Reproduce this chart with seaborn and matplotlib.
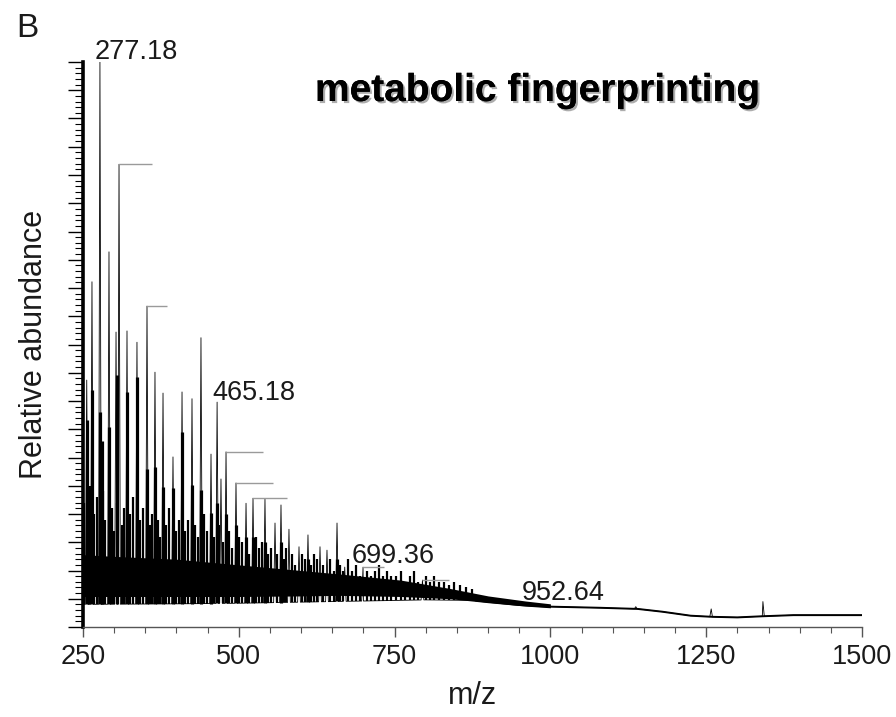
import numpy as np
import pandas as pd
import matplotlib
matplotlib.use("Agg")
import matplotlib.pyplot as plt
import matplotlib.patheffects as pe
from matplotlib.ticker import MultipleLocator, FixedLocator
import seaborn as sns

# ---------------- data ----------------
# main (tall) peaks: m/z and relative abundance
peak_mz = [256.0, 264.4, 277.18, 291.7, 303.0, 307.8, 320.6, 336.6, 352.7, 365.5,
           378.4, 394.4, 408.9, 424.9, 439.3, 455.4, 465.18, 471.4, 479.5, 495.5,
           511.6, 522.8, 542.0, 558.1, 567.7, 580.5, 596.6, 611.0, 630.3, 641.5,
           657.6, 670.0, 699.36, 794.7, 952.64, 1137.0, 1258.0, 1341.0]
peak_int = [43.7, 61.1, 100.0, 66.4, 52.2, 81.9, 52.4, 50.4, 56.8, 45.1,
            41.4, 30.1, 41.6, 40.4, 51.2, 30.6, 39.8, 26.2, 31.0, 25.5,
            21.9, 22.8, 22.7, 18.4, 21.6, 17.3, 14.2, 16.3, 14.2, 13.6,
            18.4, 10.6, 10.6, 8.3, 4.4, 3.6, 3.2, 4.5]

# dark lower bodies of the main peaks
body_mz = [256.0, 264.4, 277.18, 281.0, 291.7, 305.0, 320.6, 336.6, 352.7, 365.5,
           378.4, 394.4, 408.9, 424.9, 439.3, 455.4, 465.18, 479.5, 495.5, 511.6,
           522.8, 542.0, 567.7, 611.0, 657.6]
body_int = [36.6, 41.9, 38.0, 33.0, 35.4, 44.6, 41.6, 44.2, 28.0, 28.3,
            24.8, 24.6, 34.5, 25.1, 24.2, 20.2, 22.0, 20.0, 18.0, 16.0,
            16.0, 15.0, 15.0, 12.0, 12.0]

# dense low-level peaks ("grass")
grass_mz = [252, 258, 262, 268, 272, 282, 286, 296, 300,
            304, 312, 316, 325, 330, 341, 346,
            357, 361, 370, 374, 383, 388, 399, 404,
            413, 418, 429, 434, 444, 449,
            460, 468, 475, 484, 489, 500,
            505, 516, 527, 532, 537, 547, 552,
            562, 572, 576, 586, 590, 601, 606, 616, 621, 626, 635, 646, 652,
            662, 668, 675, 682, 688, 694, 705, 712, 718, 725, 732, 738, 745,
            752, 760, 767, 774, 781, 788, 800, 807, 814, 822, 830, 838, 846, 855, 864, 874]
grass_int = [22, 18, 25, 20, 23, 24, 19, 21, 17,
             22, 18, 21, 20, 23, 19, 21,
             18, 20, 19, 16, 18, 21, 17, 19,
             17, 19, 18, 16, 20, 17,
             16, 18, 15, 17, 14, 16,
             15, 13, 16, 14, 15, 13, 14,
             13, 12, 14, 13, 11, 13, 12, 11, 13, 12, 11, 12, 10,
             11, 10, 12, 10, 11, 9, 10, 9, 10, 11, 9, 10, 9,
             9, 10, 8, 9, 10, 8, 9, 8, 9, 8, 8, 7.5, 8, 7.5, 7, 6.8]

# baseline (floor) of the spectrum
floor_mz = [250, 400, 500, 600, 700, 800, 880, 950, 1000, 1080, 1140, 1180,
            1225, 1260, 1300, 1340, 1390, 1500]
floor_int = [4.0, 4.1, 4.2, 4.4, 4.6, 4.8, 4.7, 3.9, 3.6, 3.4, 3.2, 2.7,
             2.0, 1.8, 1.7, 1.9, 2.1, 2.1]

# solid dense noise core
band_mz = [250, 300, 400, 500, 600, 660, 760, 840, 900, 960, 1000]
band_lo = [5.4, 5.4, 5.4, 5.4, 5.5, 5.6, 5.4, 5.0, 4.3, 3.7, 3.4]
band_hi = [12.8, 12.5, 12.0, 11.0, 10.0, 9.4, 8.3, 6.8, 5.5, 4.6, 4.1]

# leader (bracket) lines of unlabeled peaks
bracket_start = [307.8, 352.7, 479.5, 495.5, 522.8, 699.36, 794.7]
bracket_end = [360.7, 384.8, 538.8, 554.9, 577.3, 733.0, 838.0]
bracket_int = [81.9, 56.8, 31.0, 25.5, 22.8, 10.6, 8.3]

# labelled peaks
label_mz = [277.18, 465.18, 699.36, 952.64]
label_int = [100.0, 39.8, 10.6, 4.4]

x_ticks = [250, 500, 750, 1000, 1250, 1500]

# ---------------- build spectrum trace ----------------
def floor_at(m):
    return float(np.interp(m, floor_mz, floor_int))

verts = [(m, a) for m, a in zip(floor_mz, floor_int)]
for m, a in zip(peak_mz, peak_int):
    hw = 2.2
    verts += [(m - hw, floor_at(m - hw)), (m, a), (m + hw, floor_at(m + hw))]
verts.sort(key=lambda v: v[0])
spec = pd.DataFrame(verts, columns=["mz", "abundance"])
base = pd.DataFrame({"mz": floor_mz[6:], "abundance": floor_int[6:]})

# ---------------- plot ----------------
sns.set_style("white")
plt.rcParams["font.family"] = ["Liberation Sans", "DejaVu Sans"]

fig = plt.figure(figsize=(8.96, 7.17), dpi=100)
ax = fig.add_axes([83 / 896, 1 - 627 / 717, (862 - 83) / 896, (627 - 62) / 717])

ax.fill_between(band_mz, band_lo, band_hi, color="black", lw=0, zorder=2)
ax.vlines(grass_mz, [floor_at(m) for m in grass_mz], grass_int,
          colors="black", lw=1.6, zorder=2)
ax.vlines(body_mz, [floor_at(m) for m in body_mz], body_int,
          colors="black", lw=2.3, zorder=2)
sns.lineplot(data=base, x="mz", y="abundance", sort=False, estimator=None,
             color="black", lw=1.4, ax=ax, zorder=3)
sns.lineplot(data=spec, x="mz", y="abundance", sort=False, estimator=None,
             color="black", lw=0.6, ax=ax, zorder=3)
ax.hlines(bracket_int, bracket_start, bracket_end, colors="#9a9a9a", lw=1.0, zorder=4)

label_offsets = {277.18: (-3.6, 2.0), 465.18: (-3.6, 1.6), 699.36: (-8.0, 3.0), 952.64: (0.7, 1.5)}
for m, a in zip(label_mz, label_int):
    ax.annotate(f"{m:.2f}", xy=(m, a), xytext=label_offsets[m], textcoords="offset points",
                fontsize=19.5, color="#1a1a1a", ha="left", va="baseline",
                annotation_clip=False, zorder=5)

ax.set_xlim(250, 1500)
ax.set_ylim(0, 100)
ax.xaxis.set_major_locator(FixedLocator(x_ticks))
ax.xaxis.set_minor_locator(MultipleLocator(50))
ax.yaxis.set_major_locator(MultipleLocator(5))
ax.yaxis.set_minor_locator(MultipleLocator(1))

for s in ["top", "right"]:
    ax.spines[s].set_visible(False)
ax.spines["left"].set_linewidth(2.6)
ax.spines["left"].set_color("black")
ax.spines["bottom"].set_linewidth(1.0)
ax.spines["bottom"].set_color("#555555")

ax.tick_params(axis="y", which="major", direction="out", length=10.5, width=1.0,
               color="black", left=True, labelleft=False)
ax.tick_params(axis="y", which="minor", direction="out", length=6, width=0.8,
               color="black", left=True)
ax.tick_params(axis="x", which="major", direction="out", length=7, width=1.0,
               color="#555555", bottom=True, labelsize=19.5, labelcolor="#1a1a1a", pad=5)
ax.tick_params(axis="x", which="minor", direction="out", length=4.5, width=0.8,
               color="#555555", bottom=True)

ax.set_xlabel("m/z", fontsize=22, color="#1a1a1a", labelpad=8)
ax.set_ylabel("Relative abundance", fontsize=22, color="#1a1a1a", labelpad=14)

fig.text(315 / 896, 1 - 101 / 717, "metabolic fingerprinting", fontsize=28,
         fontweight="bold", color="black", ha="left", va="baseline",
         path_effects=[pe.withSimplePatchShadow(offset=(1.5, -1.5), shadow_rgbFace="#777777", alpha=0.6),
                       pe.Normal()])
fig.text(16 / 896, 1 - 37 / 717, "B", fontsize=24, color="#1a1a1a", ha="left", va="baseline")

fig.savefig("out.png", dpi=100)
